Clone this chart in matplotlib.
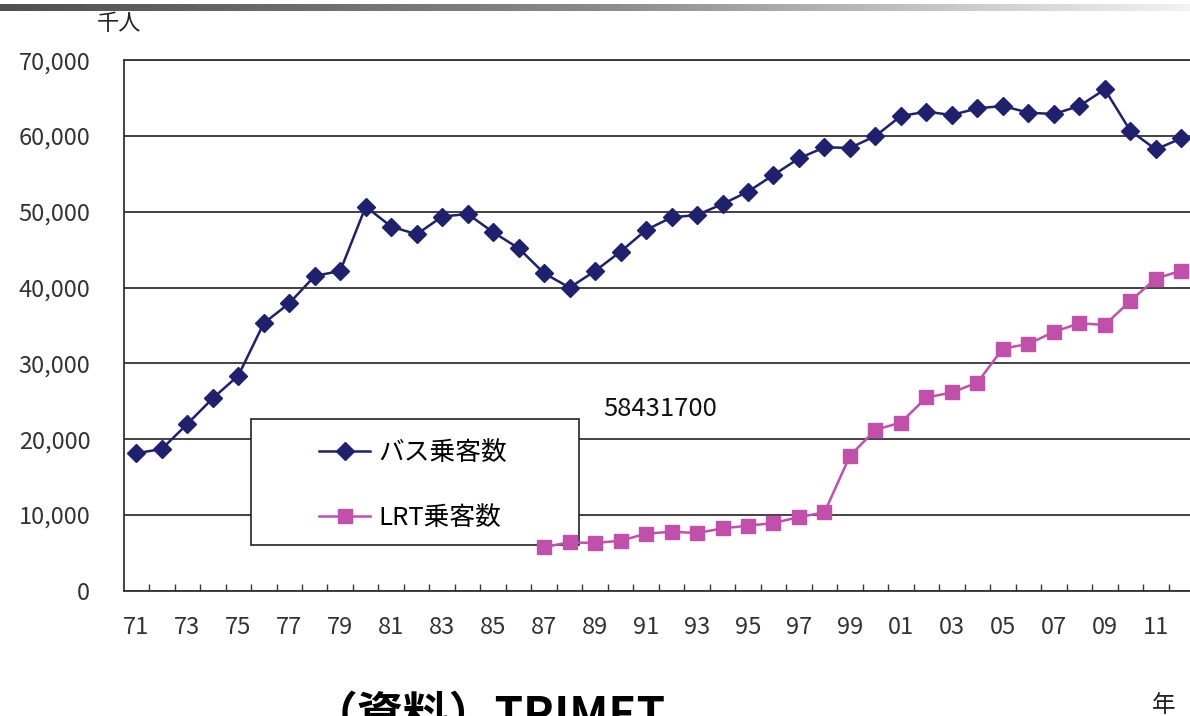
import numpy as np
import matplotlib
matplotlib.use("Agg")
import matplotlib.pyplot as plt
from matplotlib.colors import LinearSegmentedColormap
from matplotlib.patches import Rectangle

plt.rcParams['font.family'] = ['Noto Sans CJK JP', 'DejaVu Sans']

# ridership, thousands of passengers per year
years = list(range(1971, 2013))
year_labels = [f"{y % 100:02d}" for y in years]
bus_riders = [18150, 18720, 22020, 25410, 28390, 35300, 37940, 41540, 42200, 50690,
              48050, 47040, 49370, 49720, 47310, 45200, 41900, 40000, 42200, 44750,
              47600, 49270, 49580, 51030, 52660, 54860, 57050, 58510, 58432, 60000,
              62640, 63210, 62770, 63650, 63960, 63080, 62900, 63960, 66150, 60700,
              58240, 59690]
lrt_riders = [np.nan] * 16 + [5790, 6400, 6320, 6620, 7540, 7810, 7630, 8250, 8600, 8950,
                              9740, 10360, 17820, 21250, 22210, 25510, 26170, 27480, 31960,
                              32580, 34160, 35300, 35080, 38240, 41190, 42240]
y_ticks = [0, 10000, 20000, 30000, 40000, 50000, 60000, 70000]

W, H = 1190, 716
fig = plt.figure(figsize=(W / 100, H / 100), dpi=100)
ax = fig.add_axes([123.6 / W, 1 - 590.9 / H, 1070.4 / W, 530.7 / H])

x = np.arange(len(years))
ax.plot(x, bus_riders, color='#1f216e', lw=1.8, marker='D', ms=9.5,
        label='バス乗客数', zorder=3)
ax.plot(x, lrt_riders, color='#c050aa', lw=1.8, marker='s', ms=10,
        label='LRT乗客数', zorder=3)

ax.set_xlim(-0.5, len(years) - 0.5)
ax.set_ylim(0, 70000)
ax.set_yticks(y_ticks)
ax.set_yticklabels([f"{v:,}" for v in y_ticks])
ax.set_xticks(x[::2])
ax.set_xticklabels(year_labels[::2])
ax.set_xticks(x[:-1] + 0.5, minor=True)

ax.tick_params(axis='y', length=0, pad=24, labelsize=17, labelcolor='#333333')
ax.tick_params(axis='x', which='major', length=0, pad=18, labelsize=17, labelcolor='#333333')
ax.tick_params(axis='x', which='minor', direction='in', length=5, width=1, color='#333333')

ax.set_axisbelow(True)
ax.grid(axis='y', color='#333333', lw=1.3)
ax.spines['right'].set_visible(False)
for side in ['left', 'bottom', 'top']:
    ax.spines[side].set_color('#333333')
    ax.spines[side].set_linewidth(1.3)

# legend box
box = Rectangle((250.5 / W, 1 - 545 / H), 328 / W, 126 / H, transform=fig.transFigure,
                facecolor='white', edgecolor='#222222', lw=1.2, zorder=1, clip_on=False)
ax.add_patch(box)
ax.legend(loc='upper left', bbox_to_anchor=(319 / W, 1 - 440 / H),
          bbox_transform=fig.transFigure, frameon=False, fontsize=18.5,
          handlelength=2.0, handletextpad=0.3, labelspacing=1.5, borderpad=0,
          borderaxespad=0, numpoints=1)

fig.text(603 / W, 1 - 409 / H, '58431700', fontsize=18.5, ha='left', va='center', color='#111111')
fig.text(97 / W, 1 - 23 / H, '千人', fontsize=16, ha='left', va='center', color='#222222')
fig.text(1152 / W, 1 - 705 / H, '年', fontsize=17, ha='left', va='center', color='#222222')
fig.text(312 / W, 1 - 729 / H, '（資料）TRIMET', fontsize=33, ha='left', va='baseline',
         color='black', fontweight='bold')

# gray gradient strip along the top edge
bar = fig.add_axes([0, 1 - 11 / H, 1, 7 / H])
strip_cmap = LinearSegmentedColormap.from_list('strip', ['#505050', '#8a8a8a', '#f2f2f2'])
bar.imshow(np.linspace(0, 1, 256)[None, :], aspect='auto', cmap=strip_cmap)
bar.axis('off')

fig.savefig('out.png', dpi=100)
